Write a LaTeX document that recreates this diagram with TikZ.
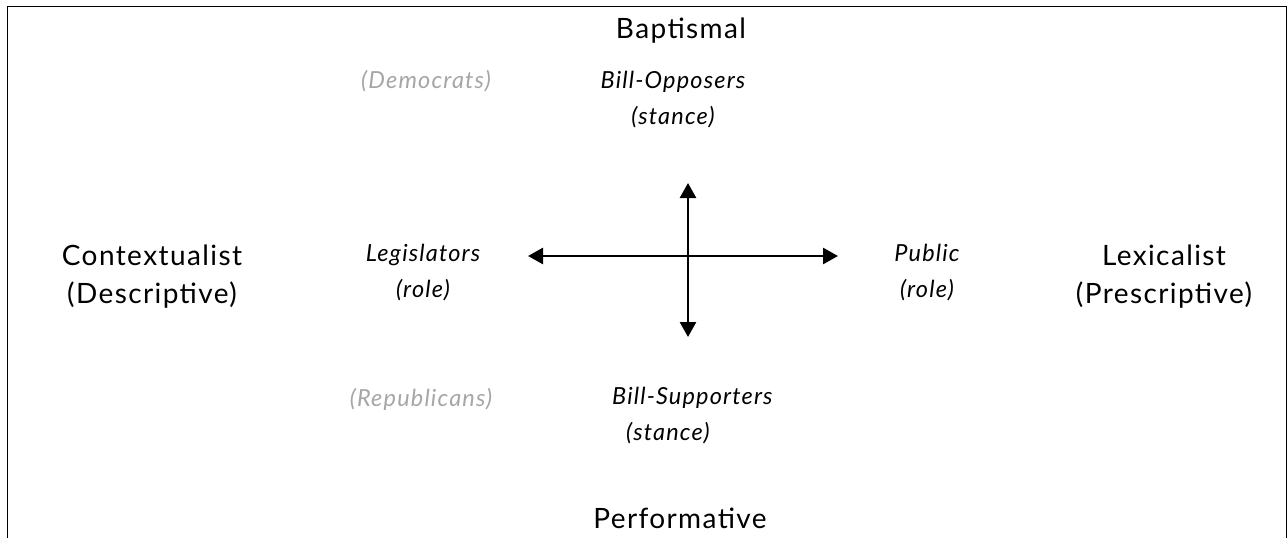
\documentclass[tikz,border=0pt]{standalone}
\usepackage{fontspec}
\setmainfont{Lato}[LetterSpace=5]
\usepackage{xcolor}
\usetikzlibrary{arrows.meta, positioning}

\definecolor{partygray}{HTML}{A6A6A6}

\begin{document}
\begin{tikzpicture}[
    x=1pt, y=-1pt,
    pole/.style={align=center, inner sep=0pt, font=\fontsize{28}{38}\selectfont},
    group/.style={align=center, inner sep=0pt, font=\fontsize{23.5}{36}\selectfont\itshape},
    party/.style={inner sep=0pt, text=partygray, font=\fontsize{23.5}{36}\selectfont\itshape},
    axis/.style={{Triangle[length=15pt,width=16pt]}-{Triangle[length=15pt,width=16pt]}, line width=2.6pt}
]
    \useasboundingbox (0,0) rectangle (1288,538);

    % Frame
    \draw[line width=1.6pt] (7.5,538) -- (7.5,6.5) -- (1286.5,6.5) -- (1286.5,538);

    % Poles
    \node[pole, anchor=base] (bapt) at (681, 38) {Baptismal};
    \node[pole, anchor=base] (perf) at (680, 528) {Performative};
    \node[pole] (context) at (152, 277) {Contextualist\\(Descriptive)};
    \node[pole] (lexical) at (1164, 277) {Lexicalist\\(Prescriptive)};

    % Groups
    \node[group] (oppose) at (673, 100) {Bill-Opposers\\(stance)};
    \node[group, align=left, anchor=west] (support) at (612, 416) {Bill-Supporters\\\hspace{14pt}(stance)};
    \node[group] (legis) at (423, 273) {Legislators\\(role)};
    \node[group] (public) at (927, 273) {Public\\(role)};

    % Parties
    \node[party, anchor=base] (dem) at (426, 88) {(Democrats)};
    \node[party, anchor=base] (rep) at (421, 406) {(Republicans)};

    % Axes
    \coordinate (hl) at (528, 256);
    \coordinate (hr) at (838, 256);
    \coordinate (vt) at (688, 183);
    \coordinate (vb) at (688, 337);
    \draw[axis] (hl) -- (hr);
    \draw[axis] (vt) -- (vb);
\end{tikzpicture}
\end{document}
